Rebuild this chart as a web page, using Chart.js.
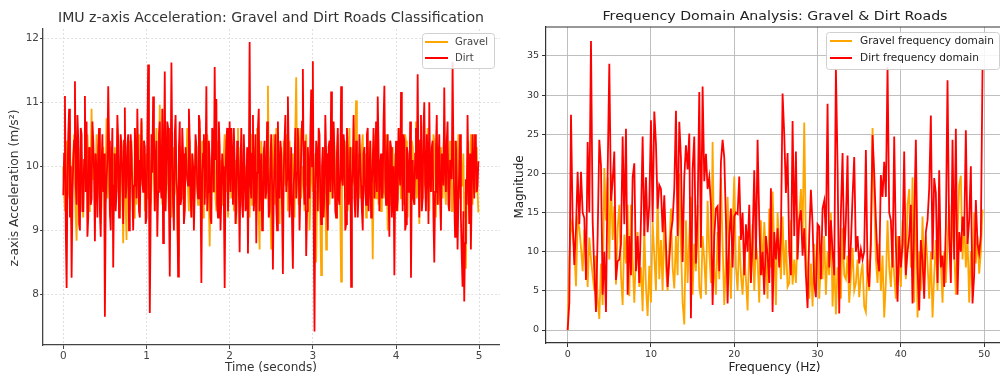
<!DOCTYPE html>
<html><head><meta charset="utf-8">
<script src="https://cdn.jsdelivr.net/npm/chart.js@4.4.1/dist/chart.umd.min.js"></script>
<style>
html,body{margin:0;padding:0;background:#fff;width:1000px;height:378px;overflow:hidden}
canvas{position:absolute;top:0}
#l{left:0}
#r{left:500px}
</style></head><body>
<canvas id="l" width="500" height="378"></canvas>
<canvas id="r" width="500" height="378"></canvas>
<script>
// ---------- DATA ----------
const timeStep = 0.01; // seconds between samples
const gravelAccel = [
10.0,9.6,9.3,10.2,10.4,9.5,9.6,10.7,10.6,9.4,9.1,10.0,10.2,10.5,9.7,9.2,8.84,9.9,10.3,9.6,
9.5,10.3,10.1,9.4,9.2,10.0,10.4,9.7,9.6,10.5,10.2,9.3,9.4,10.1,10.9,9.8,9.8,10.2,9.3,9.9,
10.5,9.5,9.7,10.4,10.0,9.1,9.4,10.2,10.3,9.8,9.6,10.0,10.75,9.5,9.8,10.3,9.2,9.9,10.1,9.4,
9.5,10.2,10.3,9.7,9.6,10.6,10.0,9.5,9.3,10.1,10.4,9.6,8.8,9.9,10.2,9.4,8.85,10.0,9.8,10.4,
9.3,9.8,10.4,10.0,9.7,9.2,10.1,10.6,9.4,9.9,10.5,9.5,9.6,10.2,10.7,9.7,9.9,10.4,9.3,10.0,
10.2,9.6,9.5,10.3,10.0,9.4,9.7,10.5,10.4,9.9,9.3,10.1,10.6,9.5,9.6,10.2,10.96,10.0,9.8,9.4,
10.3,9.7,9.4,10.6,10.1,9.8,9.7,9.3,10.5,10.0,9.2,9.9,10.3,9.5,9.6,10.4,10.0,9.2,8.6,9.8,
9.9,10.3,9.5,9.9,10.2,9.4,9.3,10.0,10.1,10.6,9.6,9.3,10.4,9.8,9.2,10.2,10.0,9.5,9.7,10.4,
10.3,9.6,9.4,10.0,10.6,9.7,9.8,10.4,9.2,9.6,10.1,9.9,9.5,10.5,10.3,9.4,8.75,9.7,10.0,10.2,
9.6,9.9,10.2,9.5,9.3,10.3,10.4,9.8,9.7,10.0,10.1,9.4,9.4,10.2,10.5,9.7,9.6,10.4,9.2,9.8,
10.0,10.4,9.5,9.7,10.3,9.3,9.8,10.1,9.1,9.8,10.6,9.6,9.7,10.3,10.2,9.5,9.4,10.0,10.0,9.6,
9.6,10.2,10.3,9.8,9.2,10.0,10.5,9.4,9.7,10.3,9.9,9.5,9.3,10.6,10.1,9.2,8.7,9.9,10.4,9.7,
9.6,10.3,10.0,9.5,9.5,10.1,11.26,10.0,9.8,9.3,8.7,9.9,10.2,10.5,9.4,9.8,10.6,10.0,9.7,9.4,
9.1,10.2,10.3,9.6,9.5,10.4,10.0,9.7,9.8,10.5,9.3,9.9,10.4,9.5,9.6,10.2,10.1,9.8,9.2,10.6,
11.39,10.1,9.7,9.4,10.2,10.6,9.5,9.9,10.0,9.6,9.3,10.3,10.5,9.7,9.8,10.1,9.0,9.5,10.3,9.9,
9.6,10.2,9.4,9.8,8.5,9.6,10.1,10.4,9.7,9.2,8.3,9.5,10.0,10.3,9.5,9.9,8.7,9.6,10.2,9.8,
9.4,10.3,10.0,9.5,9.7,10.6,10.3,9.8,9.2,10.0,10.5,9.7,9.6,9.3,8.2,9.9,10.1,10.4,9.8,9.5,
10.4,9.9,9.3,10.1,10.6,9.6,9.5,10.3,10.2,9.8,9.7,10.5,11.03,9.9,9.4,10.2,10.0,9.5,9.6,10.3,
10.5,9.7,9.8,10.2,9.2,9.8,10.3,9.5,9.6,10.4,10.1,9.6,8.55,9.7,10.0,10.5,9.5,9.8,10.4,9.4,
9.7,10.1,9.3,9.9,10.2,9.5,9.6,10.3,10.5,9.8,9.0,9.7,10.1,10.4,9.4,9.9,10.3,9.6,9.7,10.2,
9.9,9.4,9.3,10.2,10.6,9.8,9.5,10.0,10.2,9.4,9.8,10.5,10.4,9.7,9.2,10.1,10.0,9.6,9.6,10.4,
10.3,9.8,9.4,10.0,10.7,9.5,9.7,10.3,9.1,9.9,10.2,9.6,9.5,10.4,10.0,9.7,9.8,10.2,10.6,9.5,
9.3,10.0,10.1,9.7,9.6,10.5,10.4,9.8,9.2,10.1,10.0,9.4,9.7,10.2,10.3,9.9,9.5,10.3,10.5,9.6,
9.4,10.0,10.2,9.6,9.8,10.4,10.0,9.3,9.3,9.9,10.4,10.1,9.6,9.5,10.1,10.5,9.5,9.8,10.3,9.7,
9.7,10.2,9.2,9.6,8.4,9.5,10.0,10.4,9.6,9.9,10.5,9.7,9.4,10.1,10.5,9.6,9.8,10.3,9.6,9.28];
const dirtAccel = [
9.55,10.2,11.1,9.0,8.1,9.8,10.5,10.9,9.2,10.0,8.26,9.5,10.1,10.4,11.33,9.7,9.4,10.8,10.4,9.1,
9.0,10.6,10.5,9.3,9.3,10.1,11.1,9.6,10.7,8.9,9.2,10.3,10.2,9.4,9.5,10.7,10.4,9.9,8.83,10.2,
9.9,9.2,10.3,10.6,9.3,8.9,10.0,10.5,9.6,10.2,7.65,9.4,9.8,10.1,11.25,10.4,9.3,9.0,10.0,10.6,
8.42,9.7,10.2,9.3,9.6,10.8,10.4,9.2,9.5,10.5,10.3,9.8,9.1,10.4,10.92,9.5,9.7,10.3,10.5,9.0,
9.4,10.5,10.2,9.6,9.0,9.7,10.6,10.2,9.5,10.9,10.1,9.3,9.2,10.0,10.75,9.8,9.6,10.4,10.3,9.1,
9.2,10.4,11.59,9.6,7.71,9.2,10.5,9.9,11.09,10.6,9.3,10.1,10.4,8.9,9.6,10.5,10.7,9.7,9.5,10.9,
8.8,10.0,11.48,9.3,9.9,10.7,10.6,9.5,8.28,9.9,11.62,10.2,9.4,9.0,10.5,10.8,9.8,9.6,8.28,10.3,
10.7,9.4,9.5,10.6,10.2,9.1,9.3,10.3,10.1,9.8,9.7,10.9,10.4,9.5,9.2,10.2,10.0,9.0,9.6,10.5,
10.3,9.7,9.5,10.8,10.7,9.6,8.18,9.9,10.2,10.5,9.4,10.0,11.25,9.3,9.6,10.4,10.1,9.2,9.1,10.6,
10.5,9.6,11.55,10.1,11.05,9.4,9.2,10.7,10.3,9.0,9.5,10.2,10.0,9.5,8.1,9.8,10.4,10.6,9.3,10.0,
10.7,9.6,10.6,10.1,9.4,10.6,10.1,9.1,9.3,10.4,10.2,9.7,8.66,10.0,10.6,9.4,9.2,10.5,10.0,9.3,
9.4,10.3,8.64,9.9,11.94,9.7,9.5,10.2,10.8,9.3,9.6,10.5,8.8,9.9,10.6,10.9,9.3,9.8,10.2,9.0,
9.1,10.2,10.4,9.5,9.6,10.7,10.0,9.2,9.3,10.1,10.5,9.7,8.39,9.6,10.1,10.5,9.4,9.0,10.7,9.8,
9.5,10.4,10.2,9.3,8.32,9.9,10.4,10.8,9.6,9.8,11.09,10.2,9.2,9.6,10.3,9.1,8.4,9.7,10.0,10.6,
9.5,9.9,10.6,10.0,9.0,9.6,10.2,10.7,11.52,9.8,9.4,10.4,8.6,9.3,10.3,9.9,9.5,10.5,11.2,10.0,
11.64,9.1,7.42,9.7,10.4,10.2,9.3,10.6,10.5,9.5,9.1,10.0,10.3,9.2,9.6,10.8,10.2,9.4,9.0,10.3,
10.4,9.6,11.17,10.0,9.5,10.7,10.1,9.3,9.2,10.2,10.6,9.5,9.4,9.9,11.25,9.8,9.7,10.5,10.3,9.0,
9.1,10.6,10.2,9.4,9.6,10.3,8.12,9.7,10.0,10.8,9.5,9.2,10.4,10.0,9.2,9.6,10.5,10.1,9.7,9.3,
9.0,10.2,10.3,9.6,9.4,10.5,10.6,9.3,9.8,10.4,9.2,9.7,10.1,10.6,9.5,9.9,10.7,9.6,11.09,10.3,
9.3,10.0,10.2,9.5,9.6,10.7,11.26,9.8,9.4,10.2,10.5,9.6,8.9,10.4,10.3,9.2,9.6,10.0,8.3,9.7,
10.4,9.3,9.5,10.6,10.0,9.7,11.16,10.1,9.3,10.5,10.4,9.0,9.1,10.3,10.2,9.6,9.6,10.7,8.26,9.8,
10.1,9.5,9.4,10.2,10.6,9.8,11.44,10.0,9.2,10.4,10.8,9.3,9.5,10.6,11.0,9.7,9.3,10.5,10.2,9.1,
11.0,9.8,9.6,10.3,10.4,9.2,8.5,9.6,10.3,10.8,9.4,10.0,10.5,9.5,9.0,10.2,10.1,9.7,11.23,10.0,
9.6,10.4,10.7,9.4,9.3,10.1,10.0,9.8,11.63,10.2,9.5,8.9,10.4,9.7,8.7,9.5,9.9,10.5,9.2,8.6,
8.12,9.3,7.89,8.8,9.8,9.4,10.8,9.9,9.1,10.2,8.7,9.6,10.5,10.0,9.5,10.5,10.4,9.6,9.7,10.08];

const freqStep = 0.2; // Hz between bins
const gravelFreq = [0,9,13.8,12.5,10,5.6,14,13,10.5,7.5,
12.8,11,5.5,11.8,9,7,5,9.5,4,1.4,
8.5,3.2,20.7,14,19.5,9,20,11.5,15.8,5.8,
13,16,7,3.2,12.2,8.5,16,4.3,16,9,
3.5,9.8,12.5,5.5,8,2.4,13,5.5,1.8,8.2,
3.5,13.8,9.5,5,17.5,6.5,11.5,5,15,8,
5,10.5,15.5,8,5.3,12,7,20,11,3.5,
0.7,14,6,12,17,4.5,11,7.5,16,5.5,
4,12,9,4.5,16.5,10,6,24,8,4.5,
12.5,6.5,19.5,11,3.2,9,17,10,4,13,
19.6,8,5,12,7,4.5,9.8,6.5,2.5,11,
7,13.5,5,11,9,3.5,14,7,13.8,10,
4,15.5,8,17.7,10.5,3.2,15,11,6.5,14.5,
7,11.5,5.5,6,14,5.8,9,6,12,14.5,
18,12,26.5,11,6,4,8.5,3,11,5.5,
12.5,4,8.5,6.5,12,4.5,10,7,15,3,
9,2,8,6.5,4,13,7,6.5,9.5,3.5,
6.8,10.5,5,6,9,4.2,7,8.5,3,2.3,
9,5,12.5,25.8,17,9,6,11,5,9.5,
1.6,6,14,8,5.5,11,7,4,12,9,
5.5,14,11,6.5,16,18,8,19.5,3.5,21,
1.6,10,5,14.5,6.5,12,8.5,4,10,1.6,
7,11.5,5,13,8.5,3.5,10,6,11,16,
8.5,15,10,4.5,12,18.5,19.7,9,14,8,
12,3.5,10,5.5,15,8.5,12,7.2,10,15.4];
const dirtFreq = [0,3.5,27.5,14,8.3,13,20.2,13.5,20.2,15,
14.3,6.4,24,15,36.9,14,7.5,2.3,12,24.3,
21,4.5,10,2.3,20,34,16.5,19,22.8,6.4,
8.8,9,11,24.7,13.5,25.7,4.5,12,7,19.5,
21.3,7.5,12,6,14,24.7,12,19.5,12.5,16,
26.8,13.8,27.9,23.8,15.5,18.5,18,12.5,17.2,11,
5.5,9,12.5,14,18,28,12,26.6,22,8.7,
19.5,23.6,20.5,25.1,1.5,20.5,24.7,8.5,15,30.4,
10.5,31.1,19,22.5,18,19.5,16,3.2,12,15.5,
15.8,7.5,21.5,24.3,22,14,3.4,12,15.5,8,
14.5,15,14.8,19.6,11.5,15,7,13.5,10,16,
6,11.5,20.4,9,24.3,14,7,10,4.5,12,
9.5,6,18.1,2.3,12.5,9,13,8,12,30.2,
25,17.5,22.6,10,7,26.7,12,22.8,9,14,
15.3,9.5,13,7,2.8,12,17.9,13.5,6,4.2,
13.5,13.2,6.5,15.5,16.5,12,28.9,8,14,10,
7,33.4,21,2.1,15,22.6,9,14,22.3,6,
11,17,22.1,10,12,8.5,10.3,9,10,23,
7.5,5.5,11,24.9,20,14,9,7.5,19.8,17,
21.5,17,33.6,15,14,8,24.7,11,3.6,12,
8,11,22.8,7,10,12,16,3.4,14,24.3,
8,2.5,11.5,8.8,4,12.5,14,18,27.4,9,
19.4,17.5,6,20.4,8,9.5,5.5,13,31.9,12,
6,24.3,9,25.7,4.5,12.5,10,14.5,12,25.5,
11,14,20.9,3.4,7,16.6,11,9.8,12,33.2];

const timeTicks = [0,1,2,3,4,5];
const accelTicks = [8,9,10,11,12];
const freqTicks = [0,10,20,30,40,50];
const magTicks = [0,5,10,15,20,25,30,35];

const GRAVEL = '#FFA500', DIRT = '#FF0000';
const FONT = '"DejaVu Sans", "Liberation Sans", sans-serif';

// ---------- helpers ----------
function toXY(values, step){ return values.map((v,i)=>({x:i*step, y:v})); }

function drawFitText(ctx, text, x, y, size, targetW, color, rot){
  ctx.save();
  ctx.font = size + 'px ' + FONT;
  const w = ctx.measureText(text).width;
  const sx = targetW ? targetW / w : 1;
  ctx.translate(x, y);
  if (rot) ctx.rotate(rot);
  ctx.scale(sx, 1);
  ctx.fillStyle = color;
  ctx.textAlign = 'center';
  ctx.textBaseline = 'middle';
  ctx.fillText(text, 0, 0);
  ctx.restore();
}

function legendPlugin(cfg){
  return {
    id: 'customLegend',
    afterDatasetsDraw(chart){
      const ctx = chart.ctx;
      ctx.save();
      const {x, y, w, h} = cfg.box;
      ctx.beginPath();
      if (ctx.roundRect) ctx.roundRect(x+0.5, y+0.5, w, h, 3); else ctx.rect(x+0.5,y+0.5,w,h);
      ctx.fillStyle = 'rgba(255,255,255,0.85)';
      ctx.fill();
      ctx.strokeStyle = '#d0d0d0';
      ctx.lineWidth = 1;
      ctx.stroke();
      ctx.font = cfg.size + 'px ' + FONT;
      const w0 = ctx.measureText(chart.data.datasets[cfg.order[0]].label).width;
      const sx = cfg.firstW / w0;
      cfg.order.forEach((di, k) => {
        const ds = chart.data.datasets[di];
        const ry = cfg.rows[k];
        ctx.beginPath();
        ctx.moveTo(cfg.lineX0, ry); ctx.lineTo(cfg.lineX1, ry);
        ctx.strokeStyle = ds.borderColor; ctx.lineWidth = 2;
        ctx.stroke();
        ctx.save();
        ctx.translate(cfg.textX, ry);
        ctx.scale(sx, 1);
        ctx.fillStyle = cfg.color;
        ctx.textAlign = 'left'; ctx.textBaseline = 'middle';
        ctx.font = cfg.size + 'px ' + FONT;
        ctx.fillText(ds.label, 0, 0);
        ctx.restore();
      });
      ctx.restore();
    }
  };
}

function textPlugin(items){
  return {
    id: 'texts',
    afterDraw(chart){
      const ctx = chart.ctx;
      items.forEach(t => drawFitText(ctx, t.text, t.x, t.y, t.size, t.w, t.color, t.rot));
    }
  };
}

function fixedTicks(list){ return s => { s.ticks = list.map(v => ({value: v})); }; }

// ---------- LEFT CHART ----------
new Chart(document.getElementById('l'), {
  type: 'line',
  data: {
    datasets: [
      {label: 'Gravel', data: toXY(gravelAccel, timeStep), borderColor: GRAVEL, borderWidth: 1.8, pointRadius: 0, tension: 0, fill: false, order: 1},
      {label: 'Dirt', data: toXY(dirtAccel, timeStep), borderColor: DIRT, borderWidth: 1.8, pointRadius: 0, tension: 0, fill: false, order: 0}
    ]
  },
  options: {
    responsive: false, animation: false, devicePixelRatio: 1,
    layout: {padding: {top: 29, right: 0, left: 0, bottom: 0}},
    plugins: {legend: {display: false}, tooltip: {enabled: false}, title: {display: false}},
    scales: {
      x: {
        type: 'linear', min: -0.244, max: 5.25,
        afterBuildTicks: fixedTicks(timeTicks),
        afterFit: s => { s.height = 33; },
        ticks: {font: {family: FONT, size: 10.5}, color: '#444', padding: 1, maxRotation: 0, callback: v => String(v)},
        grid: {color: '#d9d9d9', lineWidth: 0.8, tickLength: 4, tickColor: '#444', tickWidth: 1, tickBorderDash: []},
        border: {display: true, color: '#444', width: 1.3, dash: [2, 2]}
      },
      y: {
        type: 'linear', min: 7.21, max: 12.145,
        afterBuildTicks: fixedTicks(accelTicks),
        afterFit: s => { s.width = 43; },
        ticks: {font: {family: FONT, size: 10.5}, color: '#444', padding: 1, callback: v => String(v)},
        grid: {color: '#d9d9d9', lineWidth: 0.8, tickLength: 3, tickColor: '#444', tickWidth: 1, tickBorderDash: []},
        border: {display: true, color: '#444', width: 1.3, dash: [2, 2]}
      }
    }
  },
  plugins: [
    legendPlugin({box: {x: 422, y: 33, w: 72, h: 35}, rows: [42, 58], lineX0: 425, lineX1: 448, textX: 455, size: 10.5, firstW: 33, color: '#444', order: [0, 1]}),
    textPlugin([
      {text: 'IMU z-axis Acceleration: Gravel and Dirt Roads Classification', x: 271, y: 18, size: 14, w: 426, color: '#333'},
      {text: 'Time (seconds)', x: 271, y: 368, size: 13, w: 92, color: '#333'},
      {text: 'z-axis Acceleration (m/s²)', x: 15, y: 188, size: 13, w: 157, color: '#333', rot: -Math.PI/2}
    ])
  ]
});

// ---------- RIGHT CHART ----------
new Chart(document.getElementById('r'), {
  type: 'line',
  data: {
    datasets: [
      {label: 'Gravel frequency domain', data: toXY(gravelFreq, freqStep), borderColor: GRAVEL, borderWidth: 1.8, pointRadius: 0, tension: 0, fill: false, order: 1},
      {label: 'Dirt frequency domain', data: toXY(dirtFreq, freqStep), borderColor: DIRT, borderWidth: 1.8, pointRadius: 0, tension: 0, fill: false, order: 0}
    ]
  },
  options: {
    responsive: false, animation: false, devicePixelRatio: 1,
    layout: {padding: {top: 27, right: 0, left: 0, bottom: 0}},
    plugins: {legend: {display: false}, tooltip: {enabled: false}, title: {display: false}},
    scales: {
      x: {
        type: 'linear', min: -2.6, max: 51.9,
        afterBuildTicks: fixedTicks(freqTicks),
        afterFit: s => { s.height = 35; },
        ticks: {font: {family: FONT, size: 9.5}, color: '#333', padding: 2, maxRotation: 0, callback: v => String(v)},
        grid: {color: '#b8b8b8', lineWidth: 0.9, tickLength: 4, tickColor: '#333', tickWidth: 1},
        border: {display: true, color: '#333', width: 1.2}
      },
      y: {
        type: 'linear', min: -1.66, max: 38.7,
        afterBuildTicks: fixedTicks(magTicks),
        afterFit: s => { s.width = 46; },
        ticks: {font: {family: FONT, size: 9.5}, color: '#333', padding: 3, callback: v => String(v)},
        grid: {color: '#b8b8b8', lineWidth: 0.9, tickLength: 4, tickColor: '#333', tickWidth: 1},
        border: {display: true, color: '#333', width: 1.2}
      }
    }
  },
  plugins: [
    {
      id: 'topSpine',
      afterDatasetsDraw(chart){
        const {ctx, chartArea: a} = chart;
        ctx.save(); ctx.strokeStyle = '#333'; ctx.lineWidth = 1.2;
        ctx.beginPath(); ctx.moveTo(a.left, a.top); ctx.lineTo(a.right, a.top); ctx.stroke();
        ctx.restore();
      }
    },
    legendPlugin({box: {x: 326, y: 32, w: 173, h: 37}, rows: [41, 58], lineX0: 330, lineX1: 352, textX: 360, size: 10.5, firstW: 134, color: '#222', order: [0, 1]}),
    textPlugin([
      {text: 'Frequency Domain Analysis: Gravel & Dirt Roads', x: 275, y: 17, size: 12.5, w: 345, color: '#222'},
      {text: 'Frequency (Hz)', x: 274.5, y: 368, size: 13, w: 92, color: '#222'},
      {text: 'Magnitude', x: 20, y: 187, size: 12.5, w: 63, color: '#222', rot: -Math.PI/2}
    ])
  ]
});
</script>
</body></html>
